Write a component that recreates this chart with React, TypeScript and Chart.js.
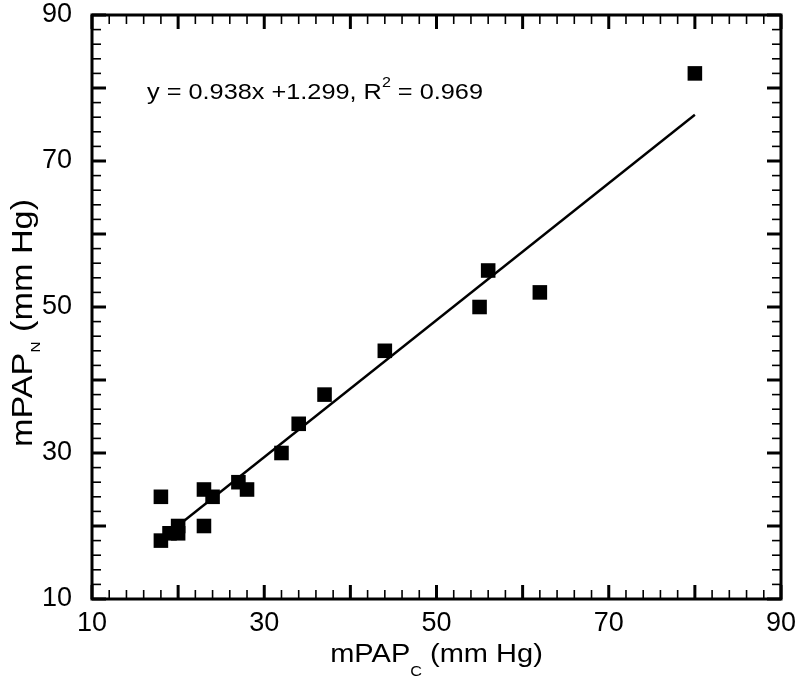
import React, { useEffect, useRef } from 'react';
import { Chart, registerables } from 'chart.js';

Chart.register(...registerables);

// mPAP measured by catheter (x) vs. non-invasive estimate (y), mm Hg
const mpapC = [18, 18, 19, 20, 20, 23, 23, 24, 27, 28, 32, 34, 37, 44, 55, 56, 62, 80];
const mpapN = [24, 18, 19, 20, 19, 25, 20, 24, 26, 25, 30, 34, 38, 44, 50, 55, 52, 82];

// regression line as printed on the chart
const fitSlope = 0.938;
const fitIntercept = 1.299;
const fitR2 = 0.969;
const fitRangeX = [18, 80];

const axisMin = 10;
const axisMax = 90;
const labelStep = 20;
const majorTickStep = 10;
const minorTickStep = 2;

const FONT = '"Liberation Sans", Arial, Helvetica, sans-serif';

type Part = { text: string; size: number; dy: number };

function drawRich(
  ctx: CanvasRenderingContext2D,
  parts: Part[],
  x: number,
  y: number,
  angle: number,
  sx: number,
  align: 'left' | 'center'
) {
  ctx.save();
  ctx.translate(x, y);
  ctx.rotate(angle);
  ctx.scale(sx, 1);
  ctx.fillStyle = '#000';
  ctx.textBaseline = 'alphabetic';
  ctx.textAlign = 'left';
  const widths = parts.map((p) => {
    ctx.font = `${p.size}px ${FONT}`;
    return ctx.measureText(p.text).width;
  });
  const total = widths.reduce((a, b) => a + b, 0);
  let cx = align === 'center' ? -total / 2 : 0;
  parts.forEach((p, i) => {
    ctx.font = `${p.size}px ${FONT}`;
    ctx.fillText(p.text, cx, p.dy);
    cx += widths[i];
  });
  ctx.restore();
}

const framePlugin = {
  id: 'frameAndText',
  afterDraw(chart: any) {
    const { ctx, chartArea } = chart;
    const { left, right, top, bottom } = chartArea;
    const xs = chart.scales.x;
    const ys = chart.scales.y;
    ctx.save();
    ctx.strokeStyle = '#000';
    ctx.lineCap = 'butt';
    const line = (x1: number, y1: number, x2: number, y2: number) => {
      ctx.beginPath();
      ctx.moveTo(x1, y1);
      ctx.lineTo(x2, y2);
      ctx.stroke();
    };
    for (let v = axisMin; v <= axisMax; v += minorTickStep) {
      const major = v % majorTickStep === 0;
      const len = major ? 14 : 9;
      ctx.lineWidth = major ? 3 : 1.6;
      const px = xs.getPixelForValue(v);
      line(px, bottom, px, bottom - len);
      line(px, top, px, top + len);
      const py = ys.getPixelForValue(v);
      line(left, py, left + len, py);
      line(right, py, right - len, py);
    }
    ctx.lineWidth = 3;
    ctx.strokeRect(left, top, right - left, bottom - top);
    ctx.restore();

    // axis titles
    drawRich(
      ctx,
      [
        { text: 'mPAP', size: 25, dy: 0 },
        { text: 'C', size: 14, dy: 14 },
        { text: ' (mm Hg)', size: 25, dy: 0 },
      ],
      (left + right) / 2,
      662,
      0,
      1.16,
      'center'
    );
    drawRich(
      ctx,
      [
        { text: 'mPAP', size: 29, dy: 0 },
        { text: 'N', size: 13, dy: 8 },
        { text: ' (mm Hg)', size: 29, dy: 0 },
      ],
      32,
      323,
      -Math.PI / 2,
      1.18,
      'center'
    );
    // regression annotation
    drawRich(
      ctx,
      [
        { text: `y = ${fitSlope.toFixed(3)}x +${fitIntercept.toFixed(3)}, R`, size: 22, dy: 0 },
        { text: '2', size: 14, dy: -12 },
        { text: ` = ${fitR2.toFixed(3)}`, size: 22, dy: 0 },
      ],
      147,
      99,
      0,
      1.15,
      'left'
    );
  },
};

export default function App() {
  const canvasRef = useRef<HTMLCanvasElement | null>(null);

  useEffect(() => {
    const canvas = canvasRef.current;
    if (!canvas) return;
    const points = mpapC.map((x, i) => ({ x, y: mpapN[i] }));
    const fitLine = fitRangeX.map((x) => ({ x, y: fitSlope * x + fitIntercept }));

    const chart = new Chart(canvas, {
      type: 'scatter',
      data: {
        datasets: [
          {
            type: 'scatter',
            label: 'data',
            data: points,
            pointStyle: 'rect',
            pointRadius: 10.3,
            pointHoverRadius: 10.3,
            backgroundColor: '#000',
            borderColor: '#000',
            borderWidth: 0,
          },
          {
            type: 'line',
            label: 'fit',
            data: fitLine,
            borderColor: '#000',
            borderWidth: 2.4,
            pointRadius: 0,
            fill: false,
            showLine: true,
          } as any,
        ],
      },
      options: {
        animation: false,
        responsive: true,
        maintainAspectRatio: false,
        layout: { autoPadding: false, padding: { top: 15, right: 19, left: 0, bottom: 0 } },
        plugins: {
          legend: { display: false },
          tooltip: { enabled: false },
          title: { display: false },
        },
        scales: {
          x: {
            type: 'linear',
            min: axisMin,
            max: axisMax,
            grid: { display: false, drawTicks: false },
            border: { display: false },
            ticks: {
              stepSize: labelStep,
              color: '#000',
              padding: 11,
              font: { family: FONT, size: 27, lineHeight: 1 },
              maxRotation: 0,
            },
            afterFit(scale: any) {
              scale.height = 77;
              scale.paddingLeft = 0;
              scale.paddingRight = 0;
            },
          },
          y: {
            type: 'linear',
            min: axisMin,
            max: axisMax,
            grid: { display: false, drawTicks: false },
            border: { display: false },
            ticks: {
              stepSize: labelStep,
              color: '#000',
              padding: 20,
              font: { family: FONT, size: 27, lineHeight: 1 },
            },
            afterFit(scale: any) {
              scale.width = 92;
              scale.paddingTop = 0;
              scale.paddingBottom = 0;
            },
          },
        },
      },
      plugins: [framePlugin],
    });
    return () => chart.destroy();
  }, []);

  return (
    <div
      style={{
        position: 'absolute',
        left: 0,
        top: 0,
        width: 800,
        height: 676,
        background: '#fff',
      }}
    >
      <canvas ref={canvasRef} />
    </div>
  );
}
